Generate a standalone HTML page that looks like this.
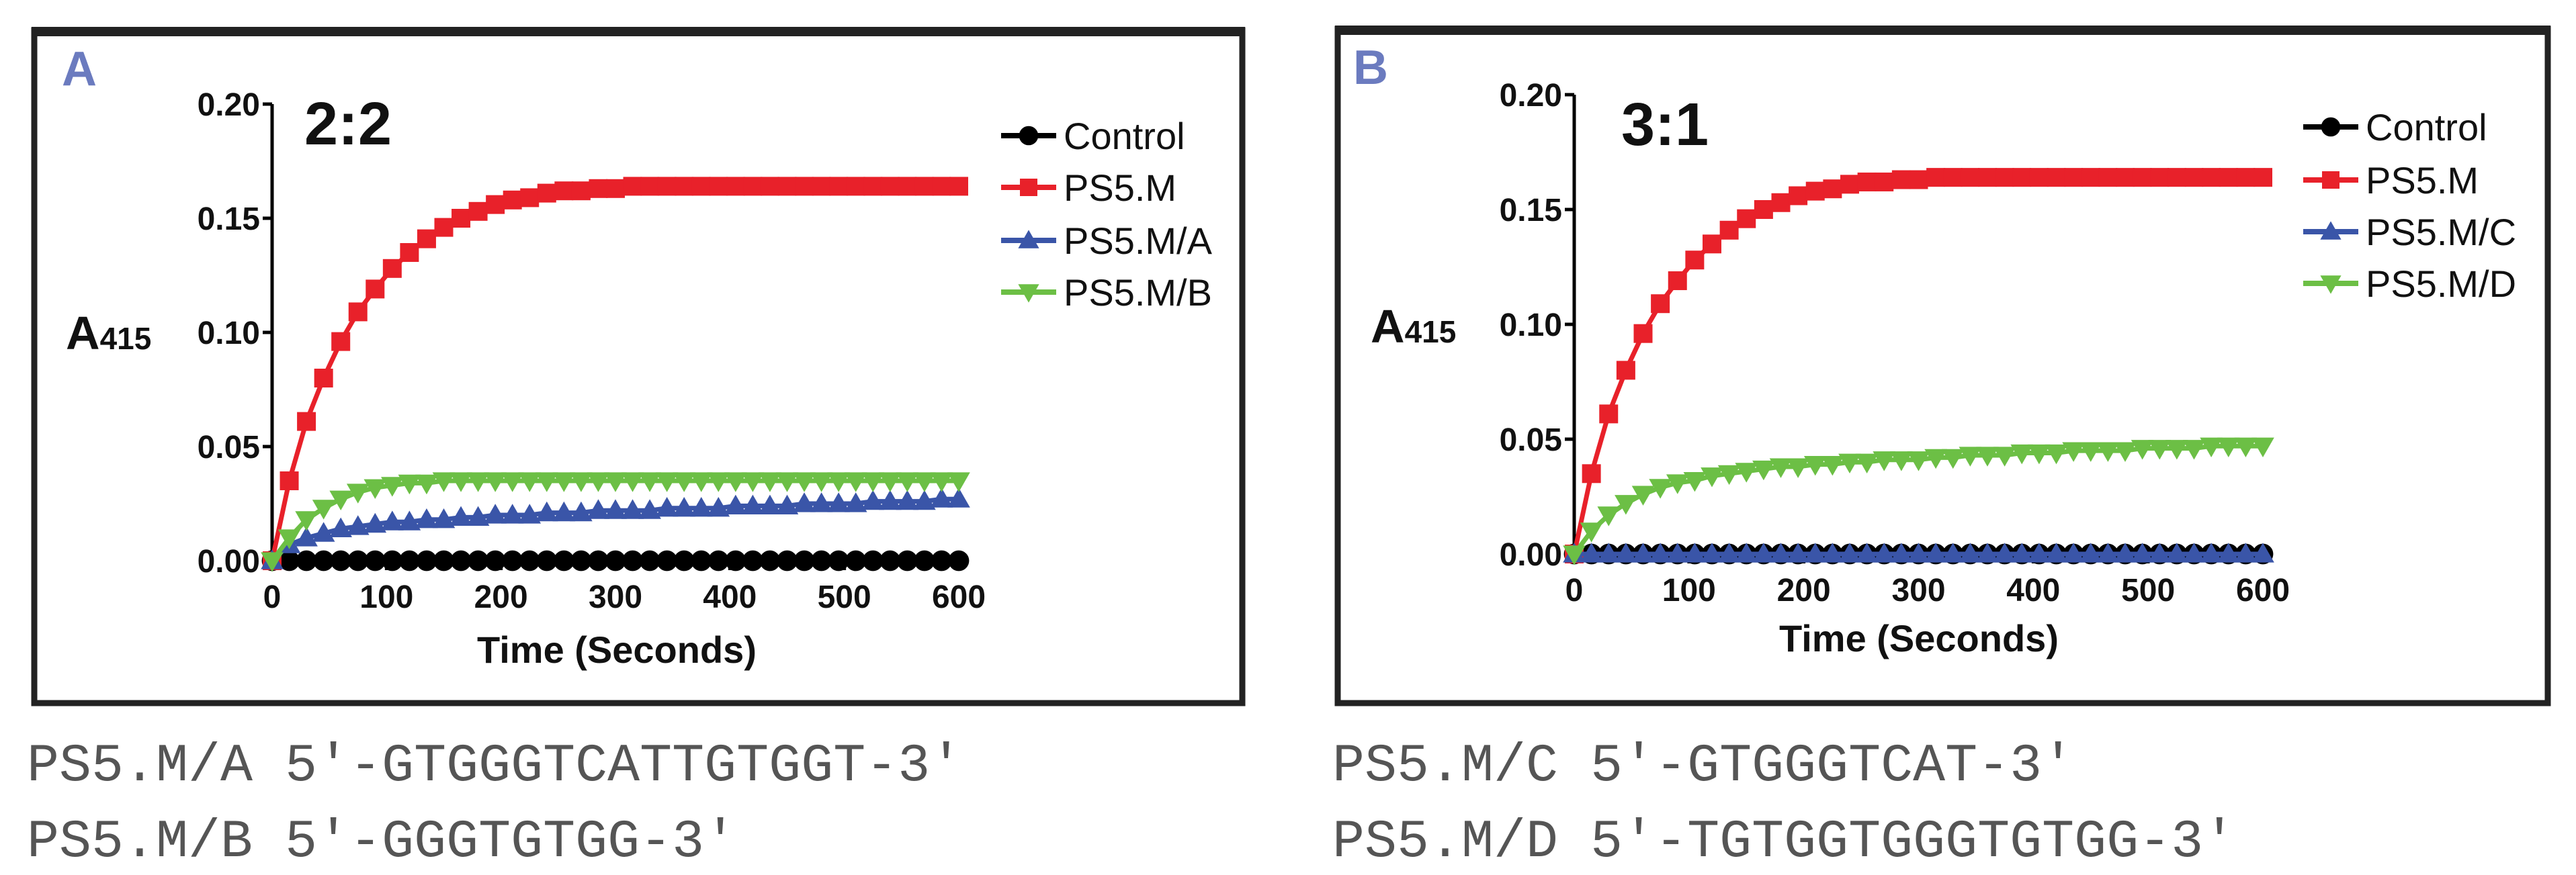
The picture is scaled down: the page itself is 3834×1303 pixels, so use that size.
<!DOCTYPE html>
<html><head><meta charset="utf-8"><style>
html,body{margin:0;padding:0;background:#fff;}
svg{display:block;}
text{font-family:"Liberation Sans",Arial,sans-serif;}
.seq{font-family:"Liberation Mono",monospace;fill:#555;font-size:80px;}
</style></head><body>
<svg id="fig" width="3834" height="1303" viewBox="0 0 3834 1303" xmlns="http://www.w3.org/2000/svg">
<rect width="3834" height="1303" fill="#fff"/>
<g id="pA"></g>
<g id="pB"></g>
<text class="seq" x="40" y="1162">PS5.M/A 5′-GTGGGTCATTGTGGT-3′</text>
<text class="seq" x="40" y="1275">PS5.M/B 5′-GGGTGTGG-3′</text>
<text class="seq" x="1983" y="1162">PS5.M/C 5′-GTGGGTCAT-3′</text>
<text class="seq" x="1983" y="1275">PS5.M/D 5′-TGTGGTGGGTGTGG-3′</text>
</svg>
<script>
const times = [0,15,30,45,60,75,90,105,120,135,150,165,180,195,210,225,240,255,270,285,300,315,330,345,360,375,390,405,420,435,450,465,480,495,510,525,540,555,570,585,600];
const yTicks = [0,0.05,0.10,0.15,0.20];
const yTickLabels = ["0.00","0.05","0.10","0.15","0.20"];
const xTicks = [0,100,200,300,400,500,600];
const controlA = times.map(()=>0);
const ps5mA = [0,0.035,0.061,0.080,0.096,0.109,0.119,0.128,0.135,0.141,0.146,0.150,0.153,0.156,0.158,0.159,0.161,0.162,0.162,0.163,0.163,0.164,0.164,0.164,0.164,0.164,0.164,0.164,0.164,0.164,0.164,0.164,0.164,0.164,0.164,0.164,0.164,0.164,0.164,0.164,0.164];
const ps5mAA = [0,0.007,0.010,0.012,0.014,0.015,0.016,0.017,0.017,0.018,0.018,0.019,0.019,0.020,0.020,0.020,0.021,0.021,0.021,0.022,0.022,0.022,0.022,0.023,0.023,0.023,0.023,0.024,0.024,0.024,0.024,0.025,0.025,0.025,0.025,0.026,0.026,0.026,0.026,0.027,0.027];
const ps5mBA = [0,0.010,0.018,0.023,0.027,0.030,0.032,0.033,0.034,0.034,0.035,0.035,0.035,0.035,0.035,0.035,0.035,0.035,0.035,0.035,0.035,0.035,0.035,0.035,0.035,0.035,0.035,0.035,0.035,0.035,0.035,0.035,0.035,0.035,0.035,0.035,0.035,0.035,0.035,0.035,0.035];
const controlB = times.map(()=>0);
const ps5mB = [0,0.035,0.061,0.080,0.096,0.109,0.119,0.128,0.135,0.141,0.146,0.150,0.153,0.156,0.158,0.159,0.161,0.162,0.162,0.163,0.163,0.164,0.164,0.164,0.164,0.164,0.164,0.164,0.164,0.164,0.164,0.164,0.164,0.164,0.164,0.164,0.164,0.164,0.164,0.164,0.164];
const ps5mCB = times.map(()=>0);
const ps5mDB = [0,0.010,0.017,0.022,0.026,0.029,0.031,0.032,0.034,0.035,0.036,0.037,0.038,0.038,0.039,0.039,0.040,0.040,0.041,0.041,0.041,0.042,0.042,0.043,0.043,0.043,0.044,0.044,0.044,0.045,0.045,0.045,0.045,0.046,0.046,0.046,0.046,0.047,0.047,0.047,0.047];

const NS="http://www.w3.org/2000/svg";
function mk(parent,tag,attrs,txt){const e=document.createElementNS(NS,tag);for(const k in attrs)e.setAttribute(k,attrs[k]);if(txt!==undefined)e.textContent=txt;parent.appendChild(e);return e;}
function marker(g,shape,cx,cy,color,s){
  let e;
  if(shape==='circle') e=mk(g,'circle',{cx:cx,cy:cy,r:s*0.55,fill:color});
  else if(shape==='square') e=mk(g,'rect',{x:cx-s/2,y:cy-s/2,width:s,height:s,fill:color});
  else if(shape==='up') e=mk(g,'polygon',{points:`${cx},${cy-s*0.6} ${cx-s*0.6},${cy+s*0.45} ${cx+s*0.6},${cy+s*0.45}`,fill:color});
  else e=mk(g,'polygon',{points:`${cx},${cy+s*0.6} ${cx-s*0.6},${cy-s*0.45} ${cx+s*0.6},${cy-s*0.45}`,fill:color});
  return e;
}
function panel(gid,cfg){
  const g=document.getElementById(gid);
  const X=t=>cfg.x0+(t/600)*(cfg.x1-cfg.x0);
  const Y=v=>cfg.y0+(v/0.2)*(cfg.y1-cfg.y0);
  const box=mk(g,'rect',{x:cfg.bx,y:cfg.by,width:cfg.bw,height:cfg.bh,fill:'none',stroke:'#222','stroke-width':9});
  
  const tb=mk(g,'line',{x1:cfg.bx-4,y1:cfg.by+2,x2:cfg.bx+cfg.bw+4,y2:cfg.by+2,stroke:'#222','stroke-width':14});
  
  const lt=mk(g,'text',{x:cfg.lx,y:cfg.ly,'font-size':72,'font-weight':'bold',fill:'#6b7bbf'},cfg.letter);
  
  const rt=mk(g,'text',{x:cfg.rx,y:cfg.ry,'font-size':90,'font-weight':'bold',fill:'#111'},cfg.ratio);
  
  const yt=mk(g,'text',{x:cfg.ax,y:cfg.ay,'font-size':70,'font-weight':'bold',fill:'#111'});
  
  mk(yt,'tspan',{},'A');mk(yt,'tspan',{'font-size':46},'415');
  const ya=mk(g,'line',{x1:cfg.x0,y1:Y(0)+10,x2:cfg.x0,y2:Y(0.2),stroke:'#000','stroke-width':5});
  
  const xa=mk(g,'line',{x1:cfg.x0,y1:Y(0),x2:X(600),y2:Y(0),stroke:'#000','stroke-width':5});
  
  yTicks.forEach((v,i)=>{
    const tk=mk(g,'line',{x1:cfg.x0-14,y1:Y(v),x2:cfg.x0,y2:Y(v),stroke:'#000','stroke-width':5});
    
    const tl=mk(g,'text',{x:cfg.x0-18,y:Y(v)+17,'font-size':48,'font-weight':'bold','text-anchor':'end',fill:'#111'},yTickLabels[i]);
    
  });
  xTicks.forEach(v=>{
    const tk=mk(g,'line',{x1:X(v),y1:Y(0),x2:X(v),y2:Y(0)+14,stroke:'#000','stroke-width':5});
    
    const tl=mk(g,'text',{x:X(v),y:Y(0)+70,'font-size':48,'font-weight':'bold','text-anchor':'middle',fill:'#111'},String(v));
    
  });
  const xt=mk(g,'text',{x:cfg.tx,y:cfg.ty,'font-size':56,'font-weight':'bold','text-anchor':'middle',fill:'#111'},'Time (Seconds)');
  
  cfg.series.forEach((s,si)=>{
    const sg=mk(g,'g',{});
    
    const pts=times.map((t,i)=>X(t)+','+Y(s.data[i])).join(' ');
    mk(sg,'polyline',{points:pts,fill:'none',stroke:s.color,'stroke-width':7});
    times.forEach((t,i)=>{
      const m=marker(sg,s.shape,X(t),Y(s.data[i]),s.color,s.size);
      
    });
    const ly=cfg.legY[si];
    const lg=mk(g,'g',{});
    
    mk(lg,'line',{x1:cfg.legX,y1:ly,x2:cfg.legX+82,y2:ly,stroke:s.color,'stroke-width':8});
    marker(lg,s.shape,cfg.legX+41,ly,s.color,26);
    mk(lg,'text',{x:cfg.legX+93,y:ly+20,'font-size':56,fill:'#111'},s.label);
  });
}
panel('pA',{bx:51,by:45,bw:1798,bh:1002,x0:405,x1:1427,y0:835,y1:155,letter:'A',lx:92,ly:127,ratio:'2:2',rx:453,ry:215,ax:98,ay:520,tx:918,ty:987,legX:1490,legY:[202,279,358,435],
  series:[{key:'control',label:'Control',data:controlA,color:'#000',shape:'circle',size:28},
          {key:'ps5m',label:'PS5.M',data:ps5mA,color:'#e8212a',shape:'square',size:28},
          {key:'ps5m-a',label:'PS5.M/A',data:ps5mAA,color:'#3a55a8',shape:'up',size:28},
          {key:'ps5m-b',label:'PS5.M/B',data:ps5mBA,color:'#6cbf45',shape:'down',size:28}]});
panel('pB',{bx:1991,by:43,bw:1801,bh:1004,x0:2343,x1:3368,y0:825,y1:141,letter:'B',lx:2014,ly:125,ratio:'3:1',rx:2413,ry:216,ax:2040,ay:510,tx:2856,ty:970,legX:3428,legY:[189,268,345,422],
  series:[{key:'control',label:'Control',data:controlB,color:'#000',shape:'circle',size:28},
          {key:'ps5m',label:'PS5.M',data:ps5mB,color:'#e8212a',shape:'square',size:28},
          {key:'ps5m-c',label:'PS5.M/C',data:ps5mCB,color:'#3a55a8',shape:'up',size:28},
          {key:'ps5m-d',label:'PS5.M/D',data:ps5mDB,color:'#6cbf45',shape:'down',size:28}]});
</script>
</body></html>
